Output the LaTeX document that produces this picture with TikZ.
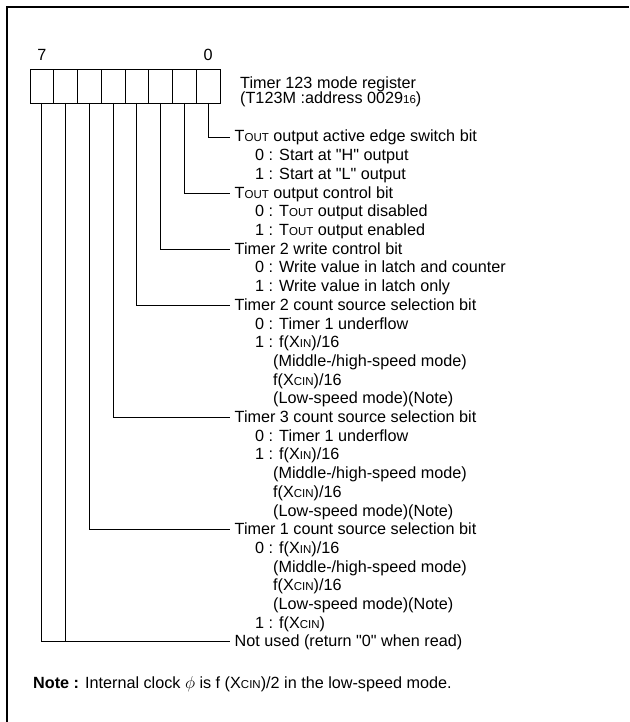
\documentclass[tikz,border=0pt]{standalone}
\usepackage{fontspec}
\setmainfont{Liberation Sans}[Ligatures=TeXOff]
\usetikzlibrary{positioning}
\newcommand{\lowcap}[1]{{\fontsize{11.5}{12}\selectfont #1}}

\begin{document}
\begin{tikzpicture}[x=1pt,y=-1pt]
		% styles
		\tikzset{
			cell/.style={draw, rectangle, minimum width=23.75pt, minimum height=34pt, inner sep=0pt, outer sep=0pt, line width=0.9pt},
			bitno/.style={inner sep=0pt, font=\fontsize{16.2}{18.7}\selectfont},
			head/.style={anchor=west, inner xsep=4.5pt, inner ysep=0pt, text height=12pt, text depth=2pt, font=\fontsize{16.2}{18.7}\selectfont},
			item/.style={head, inner xsep=0pt},
			wire/.style={line width=0.9pt}
		}
		\useasboundingbox (0,0) rectangle (629,722);

		% frame
		\draw[line width=2.2pt] (7,722) -- (7,7) -- (629,7);

		% register cells (bit 7 on the left)
		\foreach \i in {0,...,7}
			\node[cell] (b\i) at ({30+23.75*(7.5-\i)},86) {};
		\node[bitno, above=8pt of b7] (n7) {7};
		\node[bitno, above=8pt of b0] (n0) {0};

		\node[item] (title) at (240,83.3) {Timer 123 mode register};
		\node[item] (addr) at (240,98.3) {(T123M :address 0029\lowcap{16})};

		% bit 0
		\node[head] (tedge) at (230,137) {T\lowcap{OUT} output active edge switch bit};
		\node[item] (tedge0) at (255,155.7) {0 : Start at "H" output};
		\node[item] (tedge1) at (255,174.4) {1 : Start at "L" output};

		% bit 1
		\node[head] (tctrl) at (230,193.1) {T\lowcap{OUT} output control bit};
		\node[item] (tctrl0) at (255,211.8) {0 : T\lowcap{OUT} output disabled};
		\node[item] (tctrl1) at (255,230.5) {1 : T\lowcap{OUT} output enabled};

		% bit 2
		\node[head] (twr) at (230,249.2) {Timer 2 write control bit};
		\node[item] (twr0) at (255,267.9) {0 : Write value in latch and counter};
		\node[item] (twr1) at (255,286.6) {1 : Write value in latch only};

		% bit 3
		\node[head] (ttwo) at (230,305.3) {Timer 2 count source selection bit};
		\node[item] (ttwo0) at (255,324) {0 : Timer 1 underflow};
		\node[item] (ttwo1) at (255,342.7) {1 : f(X\lowcap{IN})/16};
		\node[item] (ttwo2) at (273,361.4) {(Middle-/high-speed mode)};
		\node[item] (ttwo3) at (273,380.1) {f(X\lowcap{CIN})/16};
		\node[item] (ttwo4) at (273,398.8) {(Low-speed mode)(Note)};

		% bit 4
		\node[head] (tthree) at (230,417.5) {Timer 3 count source selection bit};
		\node[item] (tthree0) at (255,436.2) {0 : Timer 1 underflow};
		\node[item] (tthree1) at (255,454.9) {1 : f(X\lowcap{IN})/16};
		\node[item] (tthree2) at (273,473.6) {(Middle-/high-speed mode)};
		\node[item] (tthree3) at (273,492.3) {f(X\lowcap{CIN})/16};
		\node[item] (tthree4) at (273,511) {(Low-speed mode)(Note)};

		% bit 5
		\node[head] (tone) at (230,529.7) {Timer 1 count source selection bit};
		\node[item] (tone0) at (255,548.4) {0 : f(X\lowcap{IN})/16};
		\node[item] (tone1) at (273,567.1) {(Middle-/high-speed mode)};
		\node[item] (tone2) at (273,585.8) {f(X\lowcap{CIN})/16};
		\node[item] (tone3) at (273,604.5) {(Low-speed mode)(Note)};
		\node[item] (tone4) at (255,623.2) {1 : f(X\lowcap{CIN})};

		% bits 6, 7
		\node[head] (unused) at (230,641.9) {Not used (return "0" when read)};

		\node[item] (note) at (33,683) {\textbf{Note :} Internal clock $\phi$ is f (X\lowcap{CIN})/2 in the low-speed mode.};

		% connections
		\draw[wire] (b0.south) |- (tedge.west);
		\draw[wire] (b1.south) |- (tctrl.west);
		\draw[wire] (b2.south) |- (twr.west);
		\draw[wire] (b3.south) |- (ttwo.west);
		\draw[wire] (b4.south) |- (tthree.west);
		\draw[wire] (b5.south) |- (tone.west);
		\draw[wire] (b7.south) |- (unused.west);
		\draw[wire] (b6.south) -- (b6.south |- unused.west);
\end{tikzpicture}
\end{document}
